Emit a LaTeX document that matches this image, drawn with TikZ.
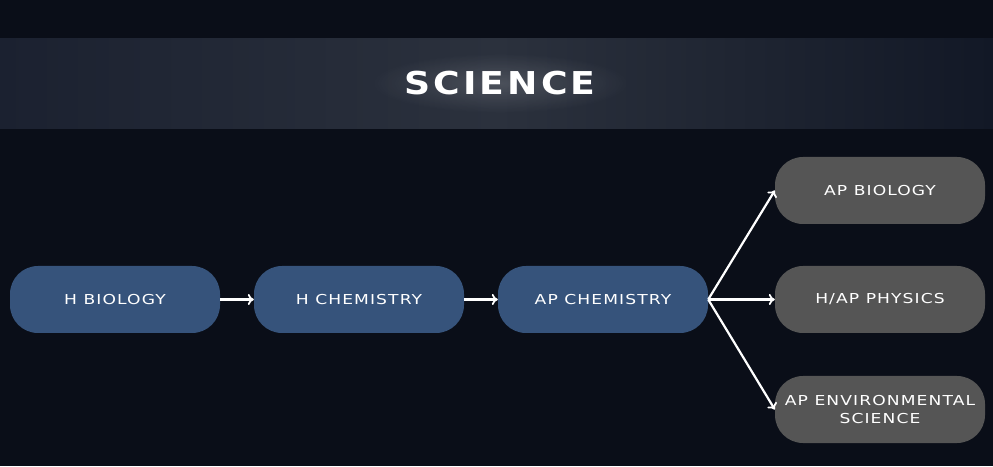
\documentclass[tikz,border=0pt]{standalone}
\usepackage{fontspec}
\usetikzlibrary{arrows.meta,fadings}
\newfontfamily\techfont[FakeStretch=1.25,LetterSpace=8]{DejaVu Sans}
\newfontfamily\techtitle[FakeStretch=1.15,LetterSpace=10]{DejaVu Sans Bold}
\definecolor{bgdark}{HTML}{0A0E18}
\definecolor{bandL}{HTML}{1B2130}
\definecolor{bandM}{HTML}{2B313D}
\definecolor{bandR}{HTML}{121826}
\definecolor{boxblue}{HTML}{36537B}
\definecolor{boxgray}{HTML}{555555}
\tikzfading[name=softglow, inner color=transparent!30, outer color=transparent!100]
\tikzset{
  course/.style={rounded corners=28pt, minimum width=210pt, minimum height=67pt,
    inner sep=2pt, align=center, text=white,
    font=\techfont\fontsize{13.7}{18.5}\selectfont},
  bluebox/.style={course, fill=boxblue},
  graybox/.style={course, fill=boxgray},
  arr/.style={draw=white, line width=2.2pt, -{To[length=6pt,width=11pt,line width=1.8pt]}},
  titletext/.style={text=white, font=\techtitle\fontsize{31.5}{36}\selectfont}
}
\begin{document}
\begin{tikzpicture}[x=1pt,y=1pt]
\useasboundingbox (0,0) rectangle (993,466);
\fill[bgdark] (0,0) rectangle (993,466);
% title band
\shade[left color=bandL, right color=bandR, middle color=bandM] (0,337) rectangle (993,427);
% soft glow behind the title
\fill[white, opacity=0.22, path fading=softglow] (500,383) ellipse [x radius=130pt, y radius=30pt];
\node[titletext] (title) at (500,383) {SCIENCE};
% nodes
\node[bluebox] (hbio) at (115,166.5) {H BIOLOGY};
\node[bluebox] (hchem) at (359,166.5) {H CHEMISTRY};
\node[bluebox] (apchem) at (603,166.5) {AP CHEMISTRY};
\node[graybox] (apbio) at (880,275.5) {AP BIOLOGY};
\node[graybox] (phys) at (880,166.5) {H/AP PHYSICS};
\node[graybox] (env) at (880,56.5) {AP ENVIRONMENTAL\\SCIENCE};
% connectors
\draw[arr] (hbio.east) -- (hchem.west);
\draw[arr] (hchem.east) -- (apchem.west);
\draw[arr] (apchem.east) -- (apbio.west);
\draw[arr] (apchem.east) -- (phys.west);
\draw[arr] (apchem.east) -- (env.west);
\end{tikzpicture}
\end{document}
